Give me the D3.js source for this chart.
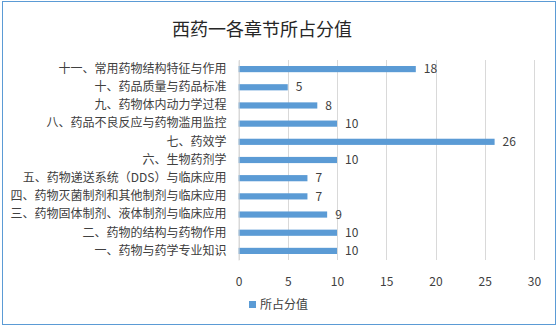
<!DOCTYPE html>
<html><head><meta charset="utf-8">
<script src="https://cdn.jsdelivr.net/npm/d3@7"></script>
<style>body{margin:0;background:#fff;} text{font-family:"Noto Sans CJK SC","Microsoft YaHei",sans-serif;}</style>
</head><body>
<svg id="c" width="557" height="327"></svg>
<script>
const categories = ["十一、常用药物结构特征与作用","十、药品质量与药品标准","九、药物体内动力学过程","八、药品不良反应与药物滥用监控","七、药效学","六、生物药剂学","五、药物递送系统（DDS）与临床应用","四、药物灭菌制剂和其他制剂与临床应用","三、药物固体制剂、液体制剂与临床应用","二、药物的结构与药物作用","一、药物与药学专业知识"];
const values = [18,5,8,10,26,10,7,7,9,10,10];
const xTicks = [0,5,10,15,20,25,30];
const title = "西药一各章节所占分值";
const seriesName = "所占分值";

const svg = d3.select("#c");
svg.append("rect").attr("x",2.5).attr("y",1.5).attr("width",553).attr("height",323)
  .attr("fill","#fff").attr("stroke","#5b9bd5").attr("stroke-width",1);

const x = d3.scaleLinear().domain([0,30]).range([238.5,534]);
const y = d3.scaleBand().domain(categories).range([60,260]).paddingInner(0.66).paddingOuter(0.33);

const g = svg.append("g");
g.selectAll("line.grid").data(xTicks).join("line").attr("class","grid")
  .attr("x1",d=>Math.round(x(d))+0.5).attr("x2",d=>Math.round(x(d))+0.5)
  .attr("y1",60).attr("y2",260).attr("stroke","#d9d9d9").attr("stroke-width",1);

g.selectAll("rect.bar").data(values).join("rect").attr("class","bar")
  .attr("x",x(0)).attr("y",(d,i)=>y(categories[i]))
  .attr("width",d=>x(d)-x(0)).attr("height",y.bandwidth()).attr("fill","#5b9bd5");

g.selectAll("text.val").data(values).join("text").attr("class","val")
  .attr("x",d=>x(d)+8).attr("y",(d,i)=>y(categories[i])+y.bandwidth()/2)
  .attr("dy","0.35em").attr("font-size",12).attr("fill","#404040").text(d=>d);

const yAxis = d3.axisLeft(y).tickSize(0).tickPadding(12);
const ya = svg.append("g").attr("transform",`translate(${x(0)},0)`).call(yAxis);
ya.select(".domain").attr("stroke","#d9d9d9");
ya.selectAll("text").attr("font-size",12).attr("fill","#404040")
  .style("font-family",'"Noto Sans CJK SC",sans-serif');

const xAxis = d3.axisBottom(x).tickValues(xTicks).tickSize(0).tickPadding(12);
const xa = svg.append("g").attr("transform","translate(0,265)").call(xAxis);
xa.select(".domain").remove();
xa.selectAll("text").attr("font-size",12).attr("fill","#404040")
  .style("font-family",'"Noto Sans CJK SC",sans-serif');

svg.append("text").attr("x",262).attr("y",30).attr("text-anchor","middle").attr("dy","0.35em")
  .attr("font-size",18).attr("fill","#262626").text(title);

svg.append("rect").attr("x",249).attr("y",301).attr("width",7).attr("height",7).attr("fill","#5b9bd5");
svg.append("text").attr("x",260).attr("y",305).attr("dy","0.35em").attr("font-size",12)
  .attr("fill","#404040").text(seriesName);
</script>
</body></html>
